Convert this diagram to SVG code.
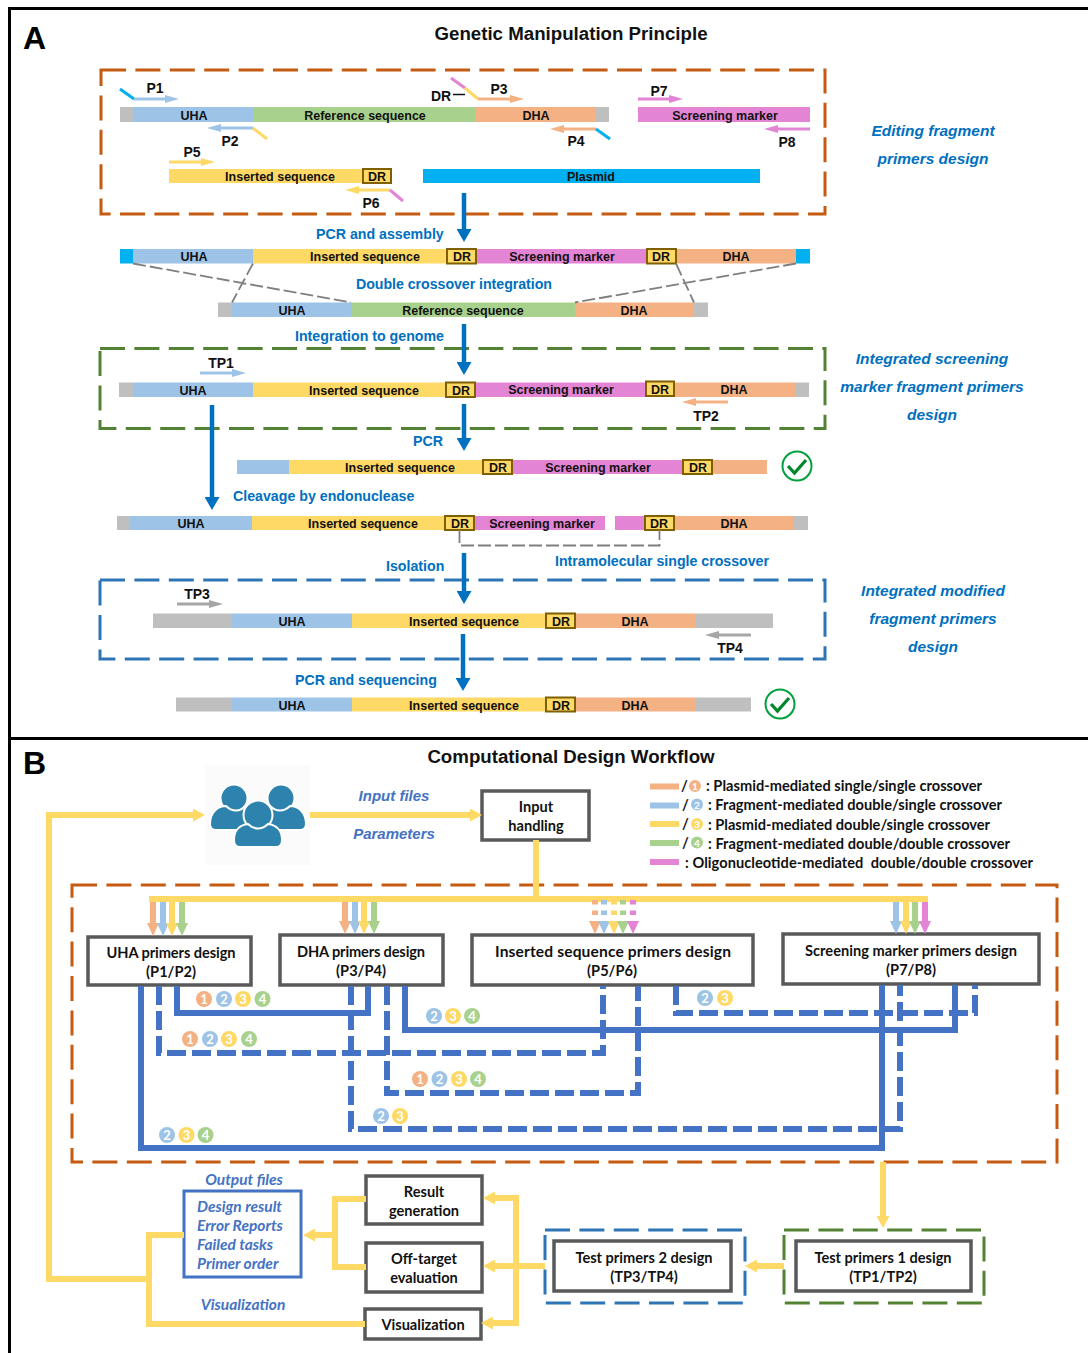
<svg xmlns="http://www.w3.org/2000/svg" width="1088" height="1353" viewBox="0 0 1088 1353">
<style>
text{font-family:"Liberation Sans",Arial,sans-serif;font-weight:700;fill:#111}
.c{text-anchor:middle}
.t{font-size:12.5px}
.p{font-size:14px}
.h{font-size:18.7px}
.big{font-size:32px;fill:#000}
.a{font-size:14.2px;fill:#0070C0}
.i{font-size:15.5px;font-style:italic;fill:#0070C0}
.l{font-family:Lato,"Open Sans",sans-serif;font-size:14.6px;fill:#111}
.li{font-family:Lato,"Open Sans",sans-serif;font-size:15.5px;font-style:italic;fill:#4472C4}
.la{font-size:15px;font-style:italic;fill:#4472C4}
.n{font-family:Lato,"Open Sans",sans-serif;font-size:13px;fill:#fff}
.o{fill:#F4B183}.b{fill:#9DC3E6}.y{fill:#FFD966}.g{fill:#A9D18E}.k{fill:#E384D4}.cy{fill:#00B0F0}.gr{fill:#BFBFBF}
.dr{fill:#FFD966;stroke:#7F6000;stroke-width:2}
.bx{fill:#fff;stroke:#595959;stroke-width:3.5}
.dash{fill:none;stroke-width:3;stroke-dasharray:25 9.4}
.prim{fill:none;stroke-width:3}
.flow{fill:none;stroke:#FFD966;stroke-width:6}
.sol{fill:none;stroke:#4472C4;stroke-width:6}
.das{fill:none;stroke:#4472C4;stroke-width:6;stroke-dasharray:19 6}
.blue{fill:none;stroke:#0070C0;stroke-width:4.5}
.gl{fill:none;stroke:#7F7F7F;stroke-width:1.8;stroke-dasharray:13 4}
.chk{fill:#fff;stroke:#00A03C;stroke-width:2}
.ck{fill:none;stroke:#00862B;stroke-width:3.2}
</style>
<defs>
<marker id="po" markerUnits="userSpaceOnUse" markerWidth="14" markerHeight="8" refY="4" orient="auto"><path d="M0 0L14 4L0 8z" fill="#F4B183"/></marker>
<marker id="pb" markerUnits="userSpaceOnUse" markerWidth="14" markerHeight="8" refY="4" orient="auto"><path d="M0 0L14 4L0 8z" fill="#9DC3E6"/></marker>
<marker id="py" markerUnits="userSpaceOnUse" markerWidth="14" markerHeight="8" refY="4" orient="auto"><path d="M0 0L14 4L0 8z" fill="#FFD966"/></marker>
<marker id="pk" markerUnits="userSpaceOnUse" markerWidth="14" markerHeight="8" refY="4" orient="auto"><path d="M0 0L14 4L0 8z" fill="#E384D4"/></marker>
<marker id="pg" markerUnits="userSpaceOnUse" markerWidth="14" markerHeight="8" refY="4" orient="auto"><path d="M0 0L14 4L0 8z" fill="#A6A6A6"/></marker>
<marker id="bl" markerUnits="userSpaceOnUse" markerWidth="13" markerHeight="15" refY="7.5" orient="auto"><path d="M0 0L13 7.5L0 15z" fill="#0070C0"/></marker>
<marker id="fy" markerUnits="userSpaceOnUse" markerWidth="12" markerHeight="13" refY="6.5" orient="auto"><path d="M0 0L12 6.5L0 13z" fill="#FFD966"/></marker>
<marker id="do" markerUnits="userSpaceOnUse" markerWidth="13" markerHeight="12" refY="6" orient="auto"><path d="M0 0L13 6L0 12z" fill="#F4B183"/></marker>
<marker id="db" markerUnits="userSpaceOnUse" markerWidth="13" markerHeight="12" refY="6" orient="auto"><path d="M0 0L13 6L0 12z" fill="#9DC3E6"/></marker>
<marker id="dy" markerUnits="userSpaceOnUse" markerWidth="13" markerHeight="12" refY="6" orient="auto"><path d="M0 0L13 6L0 12z" fill="#FFD966"/></marker>
<marker id="dg" markerUnits="userSpaceOnUse" markerWidth="13" markerHeight="12" refY="6" orient="auto"><path d="M0 0L13 6L0 12z" fill="#A9D18E"/></marker>
<marker id="dk" markerUnits="userSpaceOnUse" markerWidth="13" markerHeight="12" refY="6" orient="auto"><path d="M0 0L13 6L0 12z" fill="#E384D4"/></marker>
</defs>
<rect width="1088" height="1353" fill="#fff"/>
<g id="frame" fill="none" stroke="#000" stroke-width="3"><path d="M1088 8.500H9.500V1353M9.500 738.500H1088"/></g>
<text class="big" x="23" y="49">A</text>
<text class="big" x="23" y="774">B</text>
<text class="h c" x="571" y="40">Genetic Manipulation Principle</text>
<text class="h c" x="571" y="763">Computational Design Workflow</text>

<g id="panel-frames">
<rect class="dash" x="101" y="70" width="724" height="144" stroke="#C55A11"/>
<rect class="dash" x="100" y="348.500" width="725" height="80" stroke="#548235"/>
<rect class="dash" x="100" y="580" width="725" height="79" stroke="#2E75B6"/>
<rect class="dash" x="72" y="885" width="985" height="277" stroke="#C55A11"/>
</g>

<g id="row-reference">
<rect class="gr" x="120" y="107" width="13" height="15"/><rect class="b" x="133" y="107" width="120" height="15"/><rect class="g" x="253" y="107" width="223" height="15"/><rect class="o" x="476" y="107" width="120" height="15"/><rect class="gr" x="596" y="107" width="13" height="15"/>
<text class="t c" x="194" y="120">UHA</text><text class="t c" x="365" y="120">Reference sequence</text><text class="t c" x="536" y="120">DHA</text>
</g>
<g id="row-marker"><rect class="k" x="638" y="107" width="172" height="15"/><text class="t c" x="725" y="120">Screening marker</text></g>
<g id="row-inserted"><rect class="y" x="169" y="169" width="194" height="14"/><rect class="dr" x="363" y="169" width="28" height="14"/><text class="t c" x="280" y="181">Inserted sequence</text><text class="t c" x="377" y="181">DR</text></g>
<g id="row-plasmid"><rect class="cy" x="423" y="169" width="337" height="14"/><text class="t c" x="591" y="181">Plasmid</text></g>

<g id="primers">
<path class="prim" stroke="#00B0F0" d="M120 89L134 99"/><path class="prim" stroke="#9DC3E6" d="M134 99H165" marker-end="url(#pb)"/>
<path class="prim" stroke="#9DC3E6" d="M253 128H221" marker-end="url(#pb)"/><path class="prim" stroke="#FFD966" d="M253 128L267 139"/>
<path class="prim" stroke="#E384D4" d="M451 78L465 88"/><path class="prim" stroke="#FFD966" d="M465 88L478 99"/><path class="prim" stroke="#F4B183" d="M478 99H510" marker-end="url(#po)"/>
<path class="prim" stroke="#F4B183" d="M596 129H564" marker-end="url(#po)"/><path class="prim" stroke="#00B0F0" d="M596 129L610 139"/>
<path class="prim" stroke="#FFD966" d="M169 162H201" marker-end="url(#py)"/>
<path class="prim" stroke="#FFD966" d="M390 190H359" marker-end="url(#py)"/><path class="prim" stroke="#E384D4" d="M390 190L403 201"/>
<path class="prim" stroke="#E384D4" d="M638 99H669" marker-end="url(#pk)"/>
<path class="prim" stroke="#E384D4" d="M810 129H778" marker-end="url(#pk)"/>
<path class="prim" stroke="#9DC3E6" d="M200 373H232" marker-end="url(#pb)"/>
<path class="prim" stroke="#F4B183" d="M728 402H696" marker-end="url(#po)"/>
<path class="prim" stroke="#A6A6A6" d="M177 604H209" marker-end="url(#pg)"/>
<path class="prim" stroke="#A6A6A6" d="M751 635H719" marker-end="url(#pg)"/>
<path fill="none" stroke="#111" stroke-width="1.500" d="M453 94.500H465"/>
</g>
<g id="primer-labels">
<text class="p c" x="155" y="93">P1</text><text class="p c" x="230" y="146">P2</text><text class="p c" x="499" y="94">P3</text><text class="p c" x="576" y="146">P4</text><text class="p c" x="192" y="157">P5</text><text class="p c" x="371" y="208">P6</text><text class="p c" x="659" y="96">P7</text><text class="p c" x="787" y="147">P8</text><text class="p c" x="441" y="101">DR</text>
<text class="p c" x="221" y="368">TP1</text><text class="p c" x="706" y="421">TP2</text><text class="p c" x="197" y="599">TP3</text><text class="p c" x="730" y="653">TP4</text>
</g>

<g id="row-assembled">
<rect class="cy" x="120" y="249" width="13" height="14.500"/><rect class="b" x="133" y="249" width="120" height="14.500"/><rect class="y" x="253" y="249" width="194" height="14.500"/><rect class="k" x="476" y="249" width="171" height="14.500"/><rect class="o" x="676" y="249" width="120" height="14.500"/><rect class="cy" x="796" y="249" width="14" height="14.500"/>
<rect class="dr" x="447" y="249" width="29" height="14.500"/><rect class="dr" x="647" y="249" width="29" height="14.500"/>
<text class="t c" x="194" y="261">UHA</text><text class="t c" x="365" y="261">Inserted sequence</text><text class="t c" x="462" y="261">DR</text><text class="t c" x="562" y="261">Screening marker</text><text class="t c" x="661" y="261">DR</text><text class="t c" x="736" y="261">DHA</text>
</g>
<g id="row-genome">
<rect class="gr" x="218" y="302.500" width="14" height="14.500"/><rect class="b" x="232" y="302.500" width="119" height="14.500"/><rect class="g" x="351" y="302.500" width="224" height="14.500"/><rect class="o" x="575" y="302.500" width="119" height="14.500"/><rect class="gr" x="694" y="302.500" width="14" height="14.500"/>
<text class="t c" x="292" y="315">UHA</text><text class="t c" x="463" y="315">Reference sequence</text><text class="t c" x="634" y="315">DHA</text>
</g>
<g id="row-integrated">
<rect class="gr" x="119" y="382.500" width="14" height="14.500"/><rect class="b" x="133" y="382.500" width="120" height="14.500"/><rect class="y" x="253" y="382.500" width="193" height="14.500"/><rect class="k" x="475" y="382.500" width="171" height="14.500"/><rect class="o" x="674" y="382.500" width="121" height="14.500"/><rect class="gr" x="795" y="382.500" width="14" height="14.500"/>
<rect class="dr" x="446" y="382.500" width="29" height="14.500"/><rect class="dr" x="646" y="381.500" width="28" height="14.500"/>
<text class="t c" x="193" y="395">UHA</text><text class="t c" x="364" y="395">Inserted sequence</text><text class="t c" x="461" y="395">DR</text><text class="t c" x="561" y="394">Screening marker</text><text class="t c" x="660" y="394">DR</text><text class="t c" x="734" y="394">DHA</text>
</g>
<g id="row-pcr">
<rect class="b" x="237" y="460" width="52" height="14"/><rect class="y" x="289" y="460" width="194" height="14"/><rect class="k" x="512" y="460" width="171" height="14"/><rect class="o" x="712" y="460" width="55" height="14"/>
<rect class="dr" x="483" y="460" width="29" height="14"/><rect class="dr" x="683" y="460" width="29" height="14"/>
<text class="t c" x="400" y="472">Inserted sequence</text><text class="t c" x="498" y="472">DR</text><text class="t c" x="598" y="472">Screening marker</text><text class="t c" x="698" y="472">DR</text>
</g>
<g id="check-1"><circle class="chk" cx="797" cy="466" r="14.500"/><path class="ck" d="M788 466L794.500 473L806 460"/></g>
<g id="row-cleaved">
<rect class="gr" x="117" y="516" width="13" height="14"/><rect class="b" x="130" y="516" width="122" height="14"/><rect class="y" x="252" y="516" width="193" height="14"/><rect class="k" x="474" y="516" width="131" height="14"/><rect class="k" x="615" y="516" width="30" height="14"/><rect class="o" x="674" y="516" width="120" height="14"/><rect class="gr" x="794" y="516" width="14" height="14"/>
<rect class="dr" x="445" y="516" width="29" height="14"/><rect class="dr" x="645" y="516" width="29" height="14"/>
<text class="t c" x="191" y="528">UHA</text><text class="t c" x="363" y="528">Inserted sequence</text><text class="t c" x="460" y="528">DR</text><text class="t c" x="542" y="528">Screening marker</text><text class="t c" x="659" y="528">DR</text><text class="t c" x="734" y="528">DHA</text>
</g>
<g id="row-modified">
<rect class="gr" x="153" y="613.500" width="79" height="14.500"/><rect class="b" x="232" y="613.500" width="120" height="14.500"/><rect class="y" x="352" y="613.500" width="194" height="14.500"/><rect class="o" x="575" y="613.500" width="121" height="14.500"/><rect class="gr" x="696" y="613.500" width="77" height="14.500"/>
<rect class="dr" x="546" y="613.500" width="29" height="14.500"/>
<text class="t c" x="292" y="626">UHA</text><text class="t c" x="464" y="626">Inserted sequence</text><text class="t c" x="561" y="626">DR</text><text class="t c" x="635" y="626">DHA</text>
</g>
<g id="row-final">
<rect class="gr" x="176" y="697.500" width="56" height="14"/><rect class="b" x="232" y="697.500" width="120" height="14"/><rect class="y" x="352" y="697.500" width="194" height="14"/><rect class="o" x="575" y="697.500" width="121" height="14"/><rect class="gr" x="696" y="697.500" width="55" height="14"/>
<rect class="dr" x="546" y="697.500" width="29" height="14"/>
<text class="t c" x="292" y="710">UHA</text><text class="t c" x="464" y="710">Inserted sequence</text><text class="t c" x="561" y="710">DR</text><text class="t c" x="635" y="710">DHA</text>
</g>
<g id="check-2"><circle class="chk" cx="780" cy="704" r="14.500"/><path class="ck" d="M771 704L777.500 711L789 698"/></g>

<g id="connectors-a">
<path class="gl" d="M133 263.500L351 302.500M253 263.500L232 302.500M676 263.500L694 302.500M796 263.500L575 302.500"/>
<path class="gl" d="M459.500 530V545.500H659.500V530"/>
<path class="blue" d="M464 193V229" marker-end="url(#bl)"/>
<path class="blue" d="M464 324V362" marker-end="url(#bl)"/>
<path class="blue" d="M464 404V438" marker-end="url(#bl)"/>
<path class="blue" d="M212 405V497" marker-end="url(#bl)"/>
<path class="blue" d="M464 553V591" marker-end="url(#bl)"/>
<path class="blue" d="M463 634V678" marker-end="url(#bl)"/>
</g>
<g id="step-labels">
<text class="a" x="316" y="239">PCR and assembly</text>
<text class="a" x="356" y="289" textLength="196">Double crossover integration</text>
<text class="a" x="295" y="341">Integration to genome</text>
<text class="a" x="413" y="446">PCR</text>
<text class="a" x="233" y="501">Cleavage by endonuclease</text>
<text class="a" x="386" y="571">Isolation</text>
<text class="a" x="555" y="566" textLength="214">Intramolecular single crossover</text>
<text class="a" x="295" y="685">PCR and sequencing</text>
</g>
<g id="side-labels">
<text class="i c" x="933" y="136">Editing fragment</text><text class="i c" x="933" y="164">primers design</text>
<text class="i c" x="932" y="364">Integrated screening</text><text class="i c" x="932" y="392">marker fragment primers</text><text class="i c" x="932" y="420">design</text>
<text class="i c" x="933" y="596">Integrated modified</text><text class="i c" x="933" y="624">fragment primers</text><text class="i c" x="933" y="652">design</text>
</g>

<g id="users">
<rect x="205" y="765" width="105" height="100" fill="#FBFBFB"/>
<g fill="#2E83AE" stroke="#fff" stroke-width="2">
<circle cx="234" cy="798" r="13.500"/><circle cx="281" cy="798" r="13.500"/>
<path d="M210 824C210 812 218 806 226 806C232 812 240 812 246 806C252 808 254 810 256 830H216C212 830 210 828 210 824Z"/>
<path d="M306 824C306 812 298 806 290 806C284 812 276 812 270 806C264 808 262 810 260 830H300C304 830 306 828 306 824Z"/>
<circle cx="258" cy="815" r="14.500"/>
<path d="M234 840C234 830 240 825 248 824C254 830 262 830 268 824C276 825 282 830 282 840C282 844 280 847 276 847H240C236 847 234 844 234 840Z"/>
</g>
</g>
<g id="input-handling"><rect class="bx" x="482" y="791" width="107" height="49"/><text class="l c" x="536" y="812">Input</text><text class="l c" x="536" y="831">handling</text></g>
<g id="uha-primers"><rect class="bx" x="88" y="937" width="163" height="48"/><text class="l c" x="171" y="958" textLength="129">UHA primers design</text><text class="l c" x="171" y="977">(P1/P2)</text></g>
<g id="dha-primers"><rect class="bx" x="280" y="935" width="163" height="50"/><text class="l c" x="361" y="957" textLength="128">DHA primers design</text><text class="l c" x="361" y="976">(P3/P4)</text></g>
<g id="ins-primers"><rect class="bx" x="472" y="935" width="281" height="50"/><text class="l c" style="font-size:15.600px" x="613" y="957" textLength="236">Inserted sequence primers design</text><text class="l c" x="612" y="976">(P5/P6)</text></g>
<g id="scr-primers"><rect class="bx" x="783" y="934" width="256" height="50"/><text class="l c" x="911" y="956" textLength="212">Screening marker primers design</text><text class="l c" x="911" y="975">(P7/P8)</text></g>
<g id="result-gen"><rect class="bx" x="366" y="1176" width="116" height="48"/><text class="l c" x="424" y="1197">Result</text><text class="l c" x="424" y="1216">generation</text></g>
<g id="off-target"><rect class="bx" x="366" y="1243" width="116" height="49"/><text class="l c" x="424" y="1264">Off-target</text><text class="l c" x="424" y="1283">evaluation</text></g>
<g id="visual"><rect class="bx" x="365" y="1309" width="116" height="30"/><text class="l c" x="423" y="1330">Visualization</text></g>
<g id="output-files"><rect x="184" y="1191" width="117" height="86" fill="#fff" stroke="#4472C4" stroke-width="3"/>
<text class="li" x="197" y="1212">Design result</text><text class="li" x="197" y="1231">Error Reports</text><text class="li" x="197" y="1250">Failed tasks</text><text class="li" x="197" y="1269">Primer order</text></g>
<g id="test2"><rect class="dash" x="545" y="1230" width="200" height="73" stroke="#2E75B6"/><rect class="bx" x="554" y="1241" width="177" height="50"/><text class="l c" x="644" y="1263">Test primers 2 design</text><text class="l c" x="644" y="1282">(TP3/TP4)</text></g>
<g id="test1"><rect class="dash" x="784" y="1230" width="200" height="73" stroke="#548235"/><rect class="bx" x="796" y="1241" width="175" height="50"/><text class="l c" x="883" y="1263">Test primers 1 design</text><text class="l c" x="883" y="1282">(TP1/TP2)</text></g>

<g id="legend">
<rect class="o" x="650" y="783.500" width="29" height="6"/><rect class="b" x="650" y="802.500" width="29" height="6"/><rect class="y" x="650" y="821" width="29" height="6"/><rect class="g" x="650" y="840" width="29" height="6"/><rect class="k" x="650" y="859" width="29" height="6"/>
<text class="l" x="681" y="791">/</text><text class="l" x="682" y="810">/</text><text class="l" x="682" y="829">/</text><text class="l" x="682" y="848">/</text>
<circle class="o" cx="695" cy="786" r="6"/><circle class="b" cx="697" cy="804.500" r="6"/><circle class="y" cx="697" cy="824" r="6"/><circle class="g" cx="697" cy="842.500" r="6"/>
<text class="n c" x="695" y="790" style="font-size:10px">1</text><text class="n c" x="697" y="808.500" style="font-size:10px">2</text><text class="n c" x="697" y="828" style="font-size:10px">3</text><text class="n c" x="697" y="846.500" style="font-size:10px">4</text>
<text class="l" x="706" y="791" textLength="276">: Plasmid-mediated single/single crossover</text>
<text class="l" x="708" y="810" textLength="294">: Fragment-mediated double/single crossover</text>
<text class="l" x="708" y="830" textLength="282">: Plasmid-mediated double/single crossover</text>
<text class="l" x="708" y="849" textLength="302">: Fragment-mediated double/double crossover</text>
<text class="l" x="685" y="868" textLength="348" xml:space="preserve">: Oligonucleotide-mediated  double/double crossover</text>
</g>

<g id="connectors-b">
<path class="flow" d="M310 815H470" marker-end="url(#fy)"/>
<path class="flow" d="M536 840V899M149 899H928"/>
<g stroke-width="6" fill="none">
<path stroke="#F4B183" d="M153 902V923" marker-end="url(#do)"/><path stroke="#9DC3E6" d="M163 902V923" marker-end="url(#db)"/><path stroke="#FFD966" d="M172 902V923" marker-end="url(#dy)"/><path stroke="#A9D18E" d="M182 902V923" marker-end="url(#dg)"/>
<path stroke="#F4B183" d="M345 902V921" marker-end="url(#do)"/><path stroke="#9DC3E6" d="M355 902V921" marker-end="url(#db)"/><path stroke="#FFD966" d="M364 902V921" marker-end="url(#dy)"/><path stroke="#A9D18E" d="M374 902V921" marker-end="url(#dg)"/>
<path stroke="#F4B183" stroke-dasharray="4.500 6" d="M595 900V921" marker-end="url(#do)"/><path stroke="#9DC3E6" stroke-dasharray="4.500 6" d="M604 900V921" marker-end="url(#db)"/><path stroke="#FFD966" stroke-dasharray="4.500 6" d="M614 900V921" marker-end="url(#dy)"/><path stroke="#A9D18E" stroke-dasharray="4.500 6" d="M623 900V921" marker-end="url(#dg)"/><path stroke="#E384D4" stroke-dasharray="4.500 6" d="M633 900V921" marker-end="url(#dk)"/>
<path stroke="#9DC3E6" d="M896 902V921" marker-end="url(#db)"/><path stroke="#FFD966" d="M906 902V921" marker-end="url(#dy)"/><path stroke="#A9D18E" d="M915 902V921" marker-end="url(#dg)"/><path stroke="#E384D4" d="M925 902V921" marker-end="url(#dk)"/>
</g>
<path class="sol" d="M141 986V1148H882V985"/>
<path class="sol" d="M177 986V1013H368V986"/>
<path class="sol" d="M405 986V1030H955V985"/>
<path class="das" d="M159 986V1053H603V986"/>
<path class="das" d="M351 986V1129H900V985"/>
<path class="das" d="M387 986V1093H638V986"/>
<path class="das" d="M676 986V1013H975V985"/>
<path class="flow" d="M883 1162V1216" marker-end="url(#fy)"/>
<path class="flow" d="M784 1266H757" marker-end="url(#fy)"/>
<path class="flow" d="M545 1266H495" marker-end="url(#fy)"/>
<path class="flow" d="M516 1198H495" marker-end="url(#fy)"/>
<path class="flow" d="M516 1323H493" marker-end="url(#fy)"/>
<path class="flow" d="M516 1195V1326"/>
<path class="flow" d="M366 1199H335V1267H366"/>
<path class="flow" d="M335 1235H315" marker-end="url(#fy)"/>
<path class="flow" d="M184 1235H149V1324H365"/>
<path class="flow" d="M149 1279H49V815H193" marker-end="url(#fy)"/>
</g>

<g id="labels-b">
<text class="la c" x="394" y="801">Input files</text>
<text class="la c" x="394" y="839">Parameters</text>
<text class="li c" x="244" y="1185">Output files</text>
<text class="li c" x="243" y="1310">Visualization</text>
</g>
<g id="badges">
<g class="o"><circle cx="204" cy="999" r="8"/><circle cx="190" cy="1039" r="8"/><circle cx="420" cy="1079" r="8"/></g>
<g class="b"><circle cx="224" cy="999" r="8"/><circle cx="210" cy="1039" r="8"/><circle cx="439.500" cy="1079" r="8"/><circle cx="434" cy="1016" r="8"/><circle cx="381" cy="1116" r="8"/><circle cx="167" cy="1135" r="8"/><circle cx="705" cy="998" r="8"/></g>
<g class="y"><circle cx="243" cy="999" r="8"/><circle cx="229" cy="1039" r="8"/><circle cx="459" cy="1079" r="8"/><circle cx="453" cy="1016" r="8"/><circle cx="400" cy="1116" r="8"/><circle cx="186.500" cy="1135" r="8"/><circle cx="725" cy="998" r="8"/></g>
<g class="g"><circle cx="262.500" cy="999" r="8"/><circle cx="249" cy="1039" r="8"/><circle cx="478" cy="1079" r="8"/><circle cx="472" cy="1016" r="8"/><circle cx="205.500" cy="1135" r="8"/></g>
<text class="n c" x="204" y="1004">1</text><text class="n c" x="224" y="1004">2</text><text class="n c" x="243" y="1004">3</text><text class="n c" x="262.500" y="1004">4</text>
<text class="n c" x="190" y="1044">1</text><text class="n c" x="210" y="1044">2</text><text class="n c" x="229" y="1044">3</text><text class="n c" x="249" y="1044">4</text>
<text class="n c" x="420" y="1084">1</text><text class="n c" x="439.500" y="1084">2</text><text class="n c" x="459" y="1084">3</text><text class="n c" x="478" y="1084">4</text>
<text class="n c" x="434" y="1021">2</text><text class="n c" x="453" y="1021">3</text><text class="n c" x="472" y="1021">4</text>
<text class="n c" x="381" y="1121">2</text><text class="n c" x="400" y="1121">3</text>
<text class="n c" x="167" y="1140">2</text><text class="n c" x="186.500" y="1140">3</text><text class="n c" x="205.500" y="1140">4</text>
<text class="n c" x="705" y="1003">2</text><text class="n c" x="725" y="1003">3</text>
</g>
</svg>
